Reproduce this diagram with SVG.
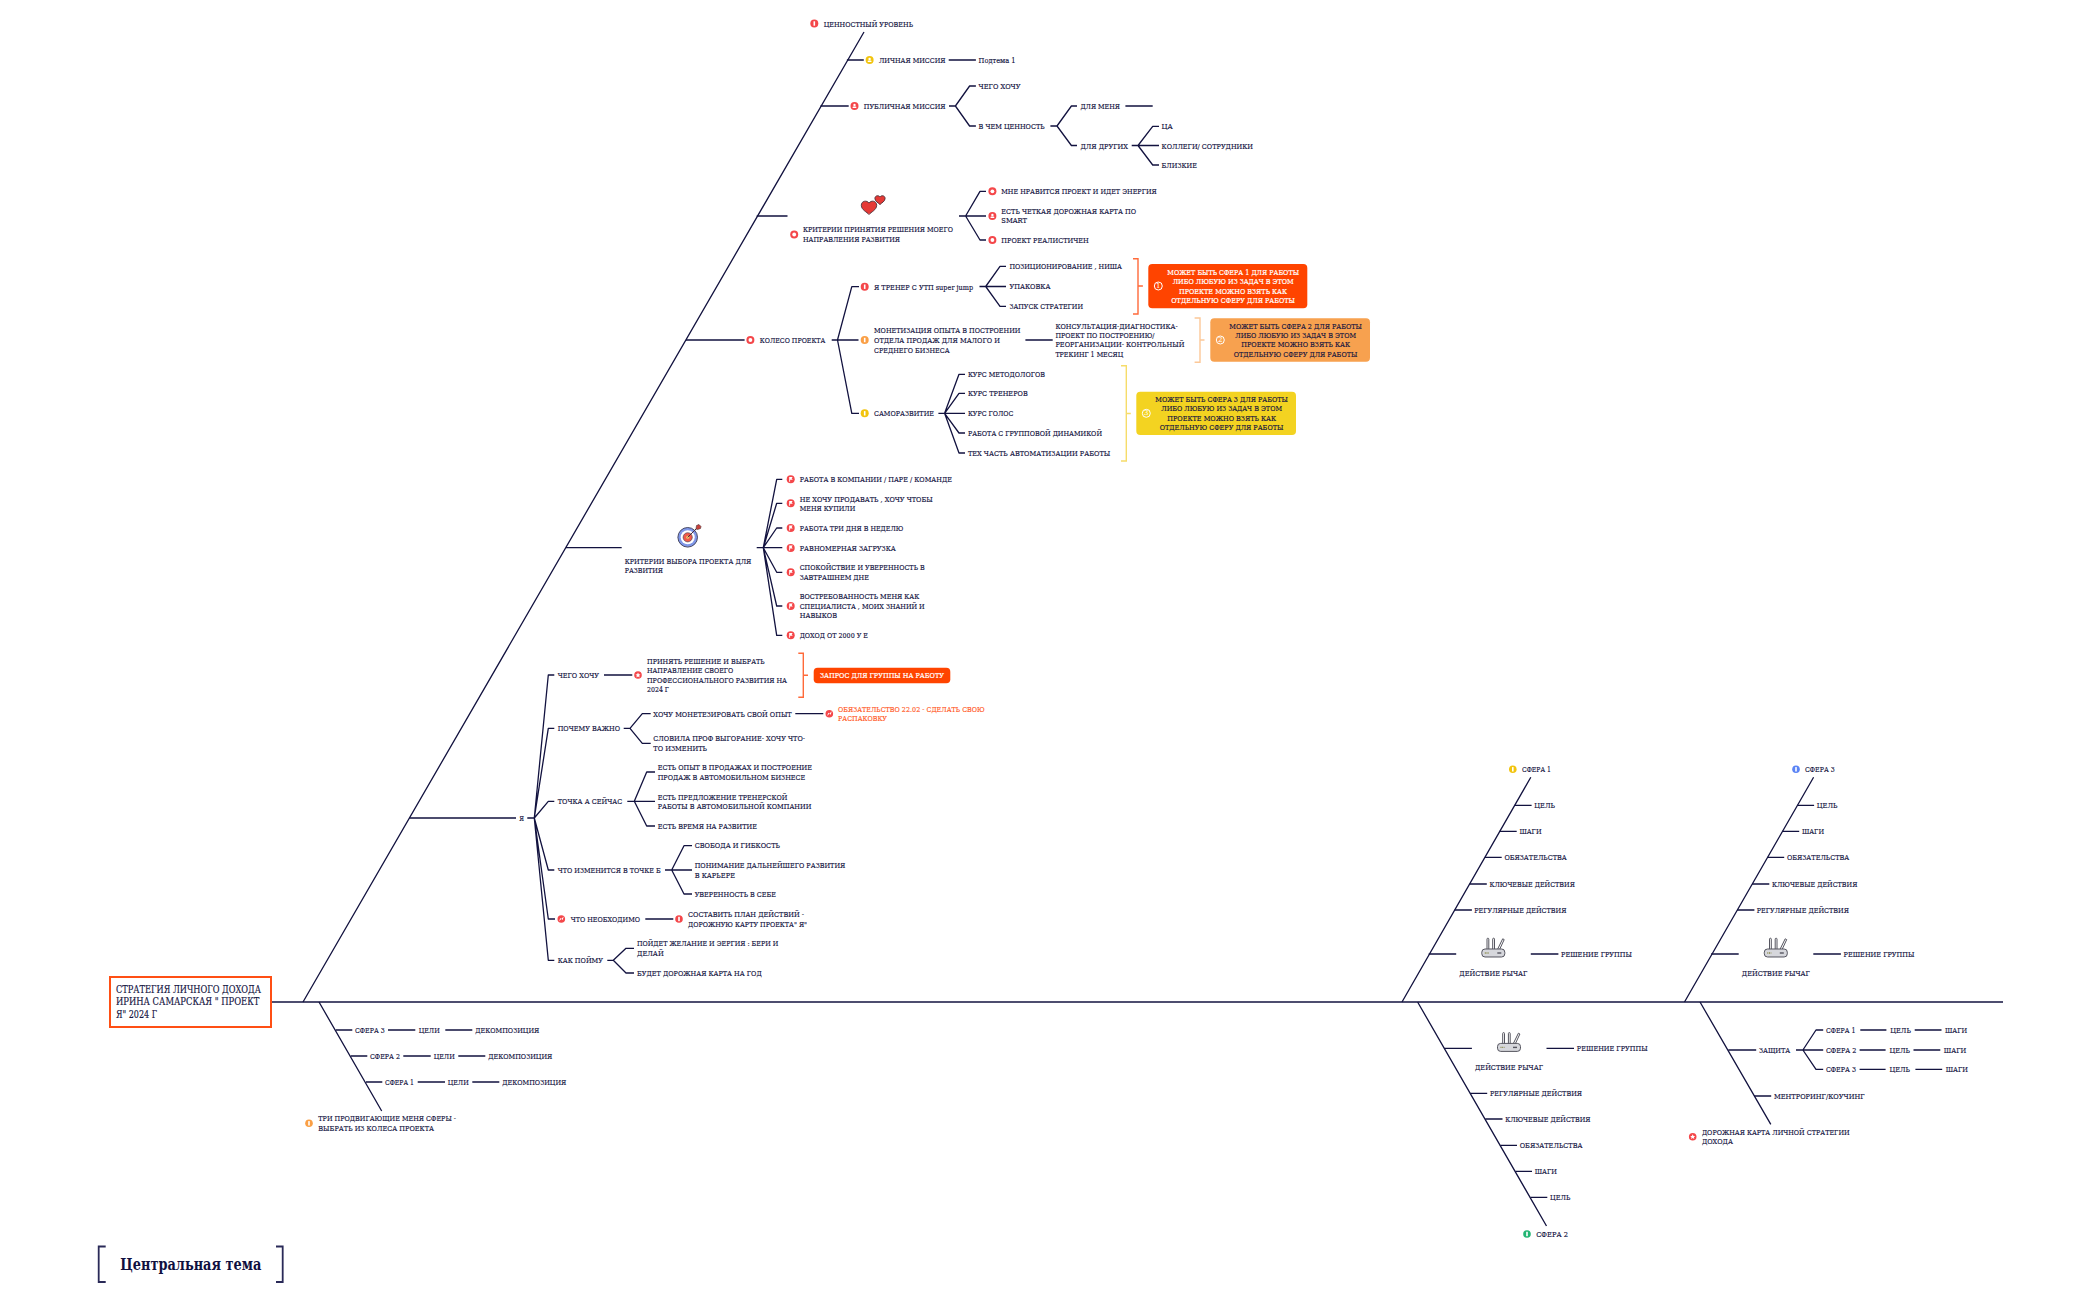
<svg xmlns="http://www.w3.org/2000/svg" width="2100" height="1300" viewBox="0 0 2100 1300">
<style>
text{font-family:"DejaVu Serif","Liberation Serif",serif;dominant-baseline:central;fill:#14143f;stroke:#14143f;stroke-width:.16;font-size:8.2px}
text.w{fill:#fff;stroke:#fff;stroke-width:.22}
text.o{fill:#ff5a28;stroke:#ff5a28}
text.c{font-size:10.5px}
text.h{font-size:17px;font-weight:bold;fill:#10103f;stroke:none}
text.n{font-size:7px;text-anchor:middle;fill:#fff;stroke:none}
.l{fill:none;stroke:#12123f;stroke-width:1.3;stroke-linejoin:round}
.b{fill:none;stroke:#12123f;stroke-width:1.5}
.ring{fill:none;stroke:#fff;stroke-width:1}
.red{fill:#f4474a}.yel{fill:#f2c40f}.ora{fill:#fa9f45}.blu{fill:#5b84f5}.gre{fill:#22b573}
.wf{fill:#fff}
</style>
<defs>
<g id="i-ring"><circle class="wf" r="1.9"/></g>
<g id="i-num"><rect class="wf" x="-.8" y="-2.2" width="1.6" height="4.4"/></g>
<g id="i-per"><circle class="wf" cy="-1" r="1.2"/><rect class="wf" x="-1.9" y=".5" width="3.8" height="1.6" rx=".7"/></g>
<g id="i-flag"><path class="wf" d="M-1.5 2.5V-2.4H2L1 -1L2 .4H-.6V2.5Z"/></g>
<g id="i-arr"><path class="wf" d="M-2.2 2.2L2.4-2.4L1.4 1L-1 -1Z"/></g>
<g id="i-star"><path class="wf" d="M0-2.5L.8-.8L2.5-.6L1.2.6L1.6 2.4L0 1.4L-1.6 2.4L-1.2.6L-2.5-.6L-.8-.8Z"/></g>
<g id="router" fill="none" stroke="#55555f" stroke-width="1">
<rect x="-11.5" y="11.4" width="23" height="8" rx="3.2" fill="#d6d7dc"/>
<path d="M-6.3 11.4V1.5a.9.9 0 0 1 1.8 0V11.4M-.6 11.4V1.5a.9.9 0 0 1 1.8 0V11.4M4.4 11.4L9.4 1.2l1.5.8L6.5 11.4"/>
<path d="M-8.5 15.4h4" stroke="#8a8a4a" stroke-dasharray="1 .7" stroke-width="1.4"/><path d="M4 15.4h4" stroke-width="1.4"/>
</g>
</defs>

<g id="connectors">
<path class="b" d="M271.5 1002H2003"/>
<path class="l" d="M303 1002L864 32M319 1002L381.7 1111M1402 1002L1530.8 777.3M1684.5 1002L1813.6 777.3M1417.6 1002L1546.5 1226M1700 1002L1770.8 1124.3"/>
<path class="l" d="M846.9 60H863.8M948.7 60H975.9M820.5 106H848.7M949 106H955.4L969.6 86H975.9M955.4 106L969.6 126H975.9M1050.4 126H1057L1071.4 106H1077M1057 126L1071.4 145.5H1077M1125.4 106H1152.7M1131.7 145.5H1138L1152.7 126.3H1159M1138 145.5H1159M1138 145.5L1152.7 165H1159"/>
<path class="l" d="M756.7 216H787.5M959 216H986M965.6 216L980 191.3H986M965.6 216L980 240H986"/>
<path class="l" d="M686 340H744.6M831.7 340H858.5M837.5 340L851.8 286.7H859M837.5 340L851.8 413.3H859M979.5 286.5H1006M985.7 286.5L1000 266.3H1006M985.7 286.5L1000 306.3H1006M1025.4 340H1052.7M938.4 413.3H965M944.6 413.3L959 374.3H965M944.6 413.3L959 393.3H965M944.6 413.3L959 433H965M944.6 413.3L959 453H965"/>
<path class="l" d="M566 547.7H621.7M756.7 547.7H782.3M763.3 547.7L776.7 479.3H782.3M763.3 547.7L776.7 503.3H782.3M763.3 547.7L776.7 528H782.3M763.3 547.7L776.7 572.3H782.3M763.3 547.7L776.7 606H782.3M763.3 547.7L776.7 635.3H782.3"/>
<path class="l" d="M409.5 818H516M527.3 818H534.3L548.3 675H554.3M534.3 818L548.3 728.3H554.3M534.3 818L548.3 801.3H554.3M534.3 818L548.3 870H554.3M534.3 818L548.3 919H555M534.3 818L548.3 960.3H554.3"/>
<path class="l" d="M604 675H632.3M623.7 728.3H630L642.3 713.7H650.7M630 728.3L642.3 743.3H650.7M795.3 713.7H823.3M627.3 801.3H655M634.3 801.3L646.7 772H655M634.3 801.3L646.7 826H655M665 870H692M671.7 870L684 845.7H692M671.7 870L684 894H692M645.3 919H673.3M607.3 960.3H613.3L626 948.3H634M613.3 960.3L626 973H634"/>
<path class="l" d="M335.7 1030H352.3M388 1030H415.3M445.3 1030H472.3M350.7 1056H367.3M403.3 1056H430.7M458.3 1056H485.3M366 1082H382.3M417.7 1082H445M472.3 1082H499.3"/>
<path class="l" d="M1514.8 805.3H1531.6M1499.5 831.3H1516.7M1484.9 857.3H1501.7M1469.6 884H1486.8M1454.7 910H1471.9M1428.7 954H1456.2M1530.8 954H1558.4"/>
<path class="l" d="M1797.3 805.3H1814.1M1782 831.3H1799.2M1767.4 857.3H1784.2M1752.1 884H1769.3M1737.2 910H1754.4M1711.2 954H1738.7M1813.3 954H1840.9"/>
<path class="l" d="M1444.3 1048.3H1471.9M1546.5 1048.3H1574M1470.4 1093.3H1487.2M1485.3 1119H1502.5M1500.6 1145.3H1517M1515.5 1171.3H1532M1530.5 1197.3H1547.3"/>
<path class="l" d="M1728.3 1050H1756.2M1796 1050H1823.2M1802.9 1050L1816 1030H1823.2M1802.9 1050L1816 1069.3H1823.2M1860.3 1030H1886.4M1914.7 1030H1941.5M1859.6 1050H1885.6M1913.5 1050H1940.3M1859.6 1069.3H1885.6M1915.4 1069.3H1942.2M1754 1096H1771.2"/>
<path d="M1133 258.7H1138V314H1133M1138 286H1142.9M798.3 653.3H803.3V697.3H798.3M803.3 675.3H808" fill="none" stroke="#ff6a3a" stroke-width="1.4"/>
<path d="M1194.6 318H1200V362.3H1194.6M1200 340H1204.5" fill="none" stroke="#fcc898" stroke-width="1.4"/>
<path d="M1121 365.7H1126.3V461H1121M1126.3 413.5H1130.8" fill="none" stroke="#f6dc6a" stroke-width="1.4"/>
</g>

<g id="central"><rect x="110" y="977" width="161" height="50" fill="#fff" stroke="#ff4f14" stroke-width="2"/>
<text class="c" x="116" y="988.7" textLength="145" lengthAdjust="spacingAndGlyphs">СТРАТЕГИЯ ЛИЧНОГО ДОХОДА</text>
<text class="c" x="116" y="1001" textLength="143.3" lengthAdjust="spacingAndGlyphs">ИРИНА САМАРСКАЯ " ПРОЕКТ</text>
<text class="c" x="116" y="1013.7" textLength="41" lengthAdjust="spacingAndGlyphs">Я" 2024 Г</text></g>

<g id="legend"><path d="M105.7 1246.5H98.7V1282H105.7M276 1246.5H282.7V1282H276" fill="none" stroke="#2a2a58" stroke-width="1.8"/>
<text class="h" x="120.3" y="1264" textLength="141" lengthAdjust="spacingAndGlyphs">Центральная тема</text></g>

<g id="n-value"><circle class="red" cx="814.3" cy="23.5" r="4"/><use href="#i-num" x="814.3" y="23.5"/><text x="823.7" y="23.5" textLength="89.3" lengthAdjust="spacingAndGlyphs">ЦЕННОСТНЫЙ УРОВЕНЬ</text></g>
<g id="n-personal"><circle class="yel" cx="869.6" cy="60" r="4"/><use href="#i-per" x="869.6" y="60"/><text x="879" y="60" textLength="66.5" lengthAdjust="spacingAndGlyphs">ЛИЧНАЯ МИССИЯ</text></g>
<g id="n-sub1"><text x="978.6" y="60" textLength="37" lengthAdjust="spacingAndGlyphs">Подтема 1</text></g>
<g id="n-public"><circle class="red" cx="854.5" cy="106" r="4"/><use href="#i-per" x="854.5" y="106"/><text x="863.8" y="106" textLength="81.7" lengthAdjust="spacingAndGlyphs">ПУБЛИЧНАЯ МИССИЯ</text></g>
<g id="n-want"><text x="978.6" y="86" textLength="41.9" lengthAdjust="spacingAndGlyphs">ЧЕГО ХОЧУ</text></g>
<g id="n-value2"><text x="978.6" y="126" textLength="66" lengthAdjust="spacingAndGlyphs">В ЧЕМ ЦЕННОСТЬ</text></g>
<g id="n-forme"><text x="1080.4" y="106" textLength="39.6" lengthAdjust="spacingAndGlyphs">ДЛЯ МЕНЯ</text></g>
<g id="n-forothers"><text x="1080.4" y="145.5" textLength="47.6" lengthAdjust="spacingAndGlyphs">ДЛЯ ДРУГИХ</text></g>
<g id="n-ca"><text x="1161.6" y="126.3" textLength="11.2" lengthAdjust="spacingAndGlyphs">ЦА</text></g>
<g id="n-coll"><text x="1161.6" y="145.5" textLength="91.4" lengthAdjust="spacingAndGlyphs">КОЛЛЕГИ/ СОТРУДНИКИ</text></g>
<g id="n-close"><text x="1161.6" y="165" textLength="35.3" lengthAdjust="spacingAndGlyphs">БЛИЗКИЕ</text></g>

<g id="n-crit1"><path d="M869 214.5c-2-2.4-7.7-4.6-7.7-9.2c0-4.6 5.6-5.4 7.7-2.2c2.1-3.2 7.7-2.4 7.7 2.2c0 4.6-5.7 6.8-7.7 9.2Z" fill="#e53935" stroke="#4a3038" stroke-width=".9"/>
<path d="M880 204.6c-1.3-1.6-5.1-3.1-5.1-6.1c0-3.1 3.7-3.6 5.1-1.5c1.4-2.1 5.1-1.6 5.1 1.5c0 3-3.8 4.5-5.1 6.1Z" fill="#e53935" stroke="#4a3038" stroke-width=".9"/>
<circle class="red" cx="794.2" cy="234.5" r="4"/><use href="#i-ring" x="794.2" y="234.5"/>
<text x="803" y="229.3" textLength="150" lengthAdjust="spacingAndGlyphs">КРИТЕРИИ ПРИНЯТИЯ РЕШЕНИЯ МОЕГО</text>
<text x="803" y="239.3" textLength="97" lengthAdjust="spacingAndGlyphs">НАПРАВЛЕНИЯ РАЗВИТИЯ</text></g>
<g id="n-c11"><circle class="red" cx="992.4" cy="191.3" r="4"/><use href="#i-ring" x="992.4" y="191.3"/><text x="1001.3" y="191.3" textLength="155.4" lengthAdjust="spacingAndGlyphs">МНЕ НРАВИТСЯ ПРОЕКТ И ИДЕТ ЭНЕРГИЯ</text></g>
<g id="n-c12"><circle class="red" cx="992.4" cy="216" r="4"/><use href="#i-per" x="992.4" y="216"/><text x="1001.3" y="211.3" textLength="134.7" lengthAdjust="spacingAndGlyphs">ЕСТЬ ЧЕТКАЯ ДОРОЖНАЯ КАРТА ПО</text><text x="1001.3" y="220.3" textLength="25.7" lengthAdjust="spacingAndGlyphs">SMART</text></g>
<g id="n-c13"><circle class="red" cx="992.4" cy="240" r="4"/><use href="#i-ring" x="992.4" y="240"/><text x="1001.3" y="240" textLength="87.5" lengthAdjust="spacingAndGlyphs">ПРОЕКТ РЕАЛИСТИЧЕН</text></g>

<g id="n-wheel"><circle class="red" cx="750.4" cy="340" r="4"/><use href="#i-ring" x="750.4" y="340"/><text x="759.8" y="340" textLength="65.6" lengthAdjust="spacingAndGlyphs">КОЛЕСО ПРОЕКТА</text></g>
<g id="n-trainer"><circle class="red" cx="864.7" cy="286.7" r="4"/><use href="#i-num" x="864.7" y="286.7"/><text x="874" y="286.7" textLength="99.2" lengthAdjust="spacingAndGlyphs">Я ТРЕНЕР С УТП super jump</text></g>
<g id="n-pos"><text x="1009.4" y="266.3" textLength="112.5" lengthAdjust="spacingAndGlyphs">ПОЗИЦИОНИРОВАНИЕ , НИША</text></g>
<g id="n-pack"><text x="1009.4" y="286.3" textLength="41" lengthAdjust="spacingAndGlyphs">УПАКОВКА</text></g>
<g id="n-launch"><text x="1009.4" y="306.3" textLength="73.6" lengthAdjust="spacingAndGlyphs">ЗАПУСК СТРАТЕГИИ</text></g>
<g id="n-box1"><rect x="1148.3" y="264" width="159" height="44.3" rx="4" fill="#ff4400"/><circle class="ring" cx="1158.3" cy="286" r="4"/><text class="n" x="1158.3" y="286">1</text>
<text class="w" x="1167.3" y="272.3" textLength="131.7" lengthAdjust="spacingAndGlyphs">МОЖЕТ БЫТЬ СФЕРА 1 ДЛЯ РАБОТЫ</text>
<text class="w" x="1172.7" y="281.3" textLength="121" lengthAdjust="spacingAndGlyphs">ЛИБО ЛЮБУЮ ИЗ ЗАДАЧ В ЭТОМ</text>
<text class="w" x="1179" y="291" textLength="108" lengthAdjust="spacingAndGlyphs">ПРОЕКТЕ МОЖНО ВЗЯТЬ КАК</text>
<text class="w" x="1171.3" y="300.3" textLength="123.7" lengthAdjust="spacingAndGlyphs">ОТДЕЛЬНУЮ СФЕРУ ДЛЯ РАБОТЫ</text></g>

<g id="n-monet"><circle class="ora" cx="864.7" cy="340" r="4"/><use href="#i-num" x="864.7" y="340"/>
<text x="874" y="330.3" textLength="146.5" lengthAdjust="spacingAndGlyphs">МОНЕТИЗАЦИЯ ОПЫТА В ПОСТРОЕНИИ</text>
<text x="874" y="340.3" textLength="126" lengthAdjust="spacingAndGlyphs">ОТДЕЛА ПРОДАЖ  ДЛЯ МАЛОГО И</text>
<text x="874" y="349.7" textLength="75.6" lengthAdjust="spacingAndGlyphs">СРЕДНЕГО БИЗНЕСА</text></g>
<g id="n-consult"><text x="1055.4" y="326" textLength="122.3" lengthAdjust="spacingAndGlyphs">КОНСУЛЬТАЦИЯ-ДИАГНОСТИКА-</text>
<text x="1055.4" y="335" textLength="99.1" lengthAdjust="spacingAndGlyphs">ПРОЕКТ ПО ПОСТРОЕНИЮ/</text>
<text x="1055.4" y="344.3" textLength="129" lengthAdjust="spacingAndGlyphs">РЕОРГАНИЗАЦИИ- КОНТРОЛЬНЫЙ</text>
<text x="1055.4" y="354" textLength="67.8" lengthAdjust="spacingAndGlyphs">ТРЕКИНГ 1 МЕСЯЦ</text></g>
<g id="n-box2"><rect x="1210.3" y="318.3" width="159.7" height="43.4" rx="4" fill="#f7a14f"/><circle class="ring" cx="1220.3" cy="340" r="4"/><text class="n" x="1220.3" y="340">2</text>
<text x="1229.3" y="326" textLength="132.7" lengthAdjust="spacingAndGlyphs">МОЖЕТ БЫТЬ СФЕРА 2 ДЛЯ РАБОТЫ</text>
<text x="1235.3" y="335" textLength="120.7" lengthAdjust="spacingAndGlyphs">ЛИБО ЛЮБУЮ ИЗ ЗАДАЧ В ЭТОМ</text>
<text x="1241.3" y="344.3" textLength="108.7" lengthAdjust="spacingAndGlyphs">ПРОЕКТЕ МОЖНО ВЗЯТЬ КАК</text>
<text x="1233.7" y="354" textLength="123.7" lengthAdjust="spacingAndGlyphs">ОТДЕЛЬНУЮ СФЕРУ ДЛЯ РАБОТЫ</text></g>

<g id="n-self"><circle class="yel" cx="864.7" cy="413.3" r="4"/><use href="#i-num" x="864.7" y="413.3"/><text x="874" y="413.3" textLength="60" lengthAdjust="spacingAndGlyphs">САМОРАЗВИТИЕ</text></g>
<g id="n-s1"><text x="967.9" y="374.3" textLength="77.1" lengthAdjust="spacingAndGlyphs">КУРС МЕТОДОЛОГОВ</text></g>
<g id="n-s2"><text x="967.9" y="393.3" textLength="59.8" lengthAdjust="spacingAndGlyphs">КУРС ТРЕНЕРОВ</text></g>
<g id="n-s3"><text x="967.9" y="413.3" textLength="45.5" lengthAdjust="spacingAndGlyphs">КУРС ГОЛОС</text></g>
<g id="n-s4"><text x="967.9" y="433" textLength="134.1" lengthAdjust="spacingAndGlyphs">РАБОТА С ГРУППОВОЙ ДИНАМИКОЙ</text></g>
<g id="n-s5"><text x="967.9" y="453" textLength="142.4" lengthAdjust="spacingAndGlyphs">ТЕХ ЧАСТЬ АВТОМАТИЗАЦИИ РАБОТЫ</text></g>
<g id="n-box3"><rect x="1136.3" y="391.7" width="159.7" height="43.3" rx="4" fill="#f3d321"/><circle class="ring" cx="1146.3" cy="413.3" r="4"/><text class="n" x="1146.3" y="413.3">3</text>
<text x="1155.3" y="399.3" textLength="132.7" lengthAdjust="spacingAndGlyphs">МОЖЕТ БЫТЬ СФЕРА 3 ДЛЯ РАБОТЫ</text>
<text x="1161.3" y="408.3" textLength="120.7" lengthAdjust="spacingAndGlyphs">ЛИБО ЛЮБУЮ ИЗ ЗАДАЧ В ЭТОМ</text>
<text x="1167.3" y="418" textLength="108.7" lengthAdjust="spacingAndGlyphs">ПРОЕКТЕ МОЖНО ВЗЯТЬ КАК</text>
<text x="1159.7" y="427.3" textLength="123.7" lengthAdjust="spacingAndGlyphs">ОТДЕЛЬНУЮ СФЕРУ ДЛЯ РАБОТЫ</text></g>

<g id="n-crit2"><circle cx="687.7" cy="537.3" r="9.8" fill="#7f97e8" stroke="#3a3a55" stroke-width=".9"/><circle cx="687.7" cy="537.3" r="7" fill="#fff"/><circle cx="687.7" cy="537.3" r="4.6" fill="#ef5a4a" stroke="#3a3a55" stroke-width=".6"/><circle cx="687.7" cy="537.3" r="1.5" fill="#f4c26a"/>
<path d="M687.7 537.3L697.5 527.5" stroke="#4a3038" stroke-width="1"/><path d="M696 529L696.5 525.5L699 524.5L701 526.5L700.5 528.5L697.5 529.5Z" fill="#c8403a" stroke="#4a3038" stroke-width=".6"/>
<text x="624.7" y="561" textLength="126.6" lengthAdjust="spacingAndGlyphs">КРИТЕРИИ ВЫБОРА ПРОЕКТА ДЛЯ</text>
<text x="624.7" y="570.3" textLength="38.3" lengthAdjust="spacingAndGlyphs">РАЗВИТИЯ</text></g>
<g id="n-k1"><circle class="red" cx="790.7" cy="479.3" r="4"/><use href="#i-flag" x="790.7" y="479.3"/><text x="799.7" y="479.3" textLength="152.3" lengthAdjust="spacingAndGlyphs">РАБОТА В КОМПАНИИ / ПАРЕ / КОМАНДЕ</text></g>
<g id="n-k2"><circle class="red" cx="790.7" cy="503.3" r="4"/><use href="#i-flag" x="790.7" y="503.3"/><text x="799.7" y="499" textLength="133" lengthAdjust="spacingAndGlyphs">НЕ ХОЧУ ПРОДАВАТЬ , ХОЧУ ЧТОБЫ</text><text x="799.7" y="508" textLength="55.6" lengthAdjust="spacingAndGlyphs">МЕНЯ КУПИЛИ</text></g>
<g id="n-k3"><circle class="red" cx="790.7" cy="528" r="4"/><use href="#i-flag" x="790.7" y="528"/><text x="799.7" y="528" textLength="103.6" lengthAdjust="spacingAndGlyphs">РАБОТА ТРИ ДНЯ В НЕДЕЛЮ</text></g>
<g id="n-k4"><circle class="red" cx="790.7" cy="548" r="4"/><use href="#i-flag" x="790.7" y="548"/><text x="799.7" y="548" textLength="96" lengthAdjust="spacingAndGlyphs">РАВНОМЕРНАЯ ЗАГРУЗКА</text></g>
<g id="n-k5"><circle class="red" cx="790.7" cy="572.3" r="4"/><use href="#i-flag" x="790.7" y="572.3"/><text x="799.7" y="567.3" textLength="125" lengthAdjust="spacingAndGlyphs">СПОКОЙСТВИЕ И УВЕРЕННОСТЬ В</text><text x="799.7" y="577" textLength="69.3" lengthAdjust="spacingAndGlyphs">ЗАВТРАШНЕМ ДНЕ</text></g>
<g id="n-k6"><circle class="red" cx="790.7" cy="606" r="4"/><use href="#i-flag" x="790.7" y="606"/><text x="799.7" y="596.3" textLength="119.6" lengthAdjust="spacingAndGlyphs">ВОСТРЕБОВАННОСТЬ МЕНЯ КАК</text><text x="799.7" y="606" textLength="125" lengthAdjust="spacingAndGlyphs">СПЕЦИАЛИСТА , МОИХ ЗНАНИЙ И</text><text x="799.7" y="615" textLength="37.3" lengthAdjust="spacingAndGlyphs">НАВЫКОВ</text></g>
<g id="n-k7"><circle class="red" cx="790.7" cy="635.3" r="4"/><use href="#i-flag" x="790.7" y="635.3"/><text x="799.7" y="635.3" textLength="68.3" lengthAdjust="spacingAndGlyphs">ДОХОД ОТ 2000 У Е</text></g>

<g id="n-ya"><text x="519.3" y="818" textLength="4.7" lengthAdjust="spacingAndGlyphs">Я</text></g>
<g id="n-y1"><text x="557.7" y="675" textLength="41.3" lengthAdjust="spacingAndGlyphs">ЧЕГО ХОЧУ</text></g>
<g id="n-y1a"><circle class="red" cx="638" cy="675" r="3.8"/><use href="#i-star" x="638" y="675"/>
<text x="647" y="661" textLength="117.7" lengthAdjust="spacingAndGlyphs">ПРИНЯТЬ РЕШЕНИЕ И ВЫБРАТЬ</text>
<text x="647" y="670.3" textLength="86.3" lengthAdjust="spacingAndGlyphs">НАПРАВЛЕНИЕ СВОЕГО</text>
<text x="647" y="680" textLength="140" lengthAdjust="spacingAndGlyphs">ПРОФЕССИОНАЛЬНОГО РАЗВИТИЯ НА</text>
<text x="647" y="689.3" textLength="22" lengthAdjust="spacingAndGlyphs">2024 Г</text></g>
<g id="n-req"><rect x="813.7" y="667.7" width="136.6" height="15.6" rx="4" fill="#ff4400"/><text class="w" x="820" y="675.3" textLength="124" lengthAdjust="spacingAndGlyphs">ЗАПРОС ДЛЯ ГРУППЫ НА РАБОТУ</text></g>
<g id="n-y2"><text x="557.7" y="728.3" textLength="62.3" lengthAdjust="spacingAndGlyphs">ПОЧЕМУ ВАЖНО</text></g>
<g id="n-y2a"><text x="653.3" y="713.7" textLength="138.4" lengthAdjust="spacingAndGlyphs">ХОЧУ МОНЕТЕЗИРОВАТЬ СВОЙ ОПЫТ</text></g>
<g id="n-y2b"><circle class="red" cx="829.3" cy="713.7" r="3.8"/><use href="#i-arr" x="829.3" y="713.7"/><text class="o" x="838" y="709" textLength="146.7" lengthAdjust="spacingAndGlyphs">ОБЯЗАТЕЛЬСТВО 22.02 - СДЕЛАТЬ СВОЮ</text><text class="o" x="838" y="718" textLength="49" lengthAdjust="spacingAndGlyphs">РАСПАКОВКУ</text></g>
<g id="n-y2c"><text x="653.3" y="738" textLength="151.7" lengthAdjust="spacingAndGlyphs">СЛОВИЛА ПРОФ ВЫГОРАНИЕ- ХОЧУ ЧТО-</text><text x="653.3" y="748" textLength="53.7" lengthAdjust="spacingAndGlyphs">ТО ИЗМЕНИТЬ</text></g>
<g id="n-y3"><text x="557.7" y="801.3" textLength="64.6" lengthAdjust="spacingAndGlyphs">ТОЧКА А СЕЙЧАС</text></g>
<g id="n-y3a"><text x="657.7" y="767" textLength="154.3" lengthAdjust="spacingAndGlyphs">ЕСТЬ ОПЫТ В ПРОДАЖАХ И ПОСТРОЕНИЕ</text><text x="657.7" y="777" textLength="147.6" lengthAdjust="spacingAndGlyphs">ПРОДАЖ В АВТОМОБИЛЬНОМ БИЗНЕСЕ</text></g>
<g id="n-y3b"><text x="657.7" y="797" textLength="129.6" lengthAdjust="spacingAndGlyphs">ЕСТЬ ПРЕДЛОЖЕНИЕ ТРЕНЕРСКОЙ</text><text x="657.7" y="806" textLength="153.6" lengthAdjust="spacingAndGlyphs">РАБОТЫ В АВТОМОБИЛЬНОЙ КОМПАНИИ</text></g>
<g id="n-y3c"><text x="657.7" y="826" textLength="99.3" lengthAdjust="spacingAndGlyphs">ЕСТЬ ВРЕМЯ НА РАЗВИТИЕ</text></g>
<g id="n-y4"><text x="557.7" y="870" textLength="103" lengthAdjust="spacingAndGlyphs">ЧТО ИЗМЕНИТСЯ В ТОЧКЕ Б</text></g>
<g id="n-y4a"><text x="694.7" y="845.3" textLength="85.3" lengthAdjust="spacingAndGlyphs">СВОБОДА  И ГИБКОСТЬ</text></g>
<g id="n-y4b"><text x="694.7" y="865" textLength="150.6" lengthAdjust="spacingAndGlyphs">ПОНИМАНИЕ ДАЛЬНЕЙШЕГО РАЗВИТИЯ</text><text x="694.7" y="875" textLength="40.3" lengthAdjust="spacingAndGlyphs">В КАРЬЕРЕ</text></g>
<g id="n-y4c"><text x="694.7" y="894" textLength="81.3" lengthAdjust="spacingAndGlyphs">УВЕРЕННОСТЬ В СЕБЕ</text></g>
<g id="n-y5"><circle class="red" cx="561.3" cy="919" r="3.8"/><use href="#i-arr" x="561.3" y="919"/><text x="570.7" y="919" textLength="69.3" lengthAdjust="spacingAndGlyphs">ЧТО НЕОБХОДИМО</text></g>
<g id="n-y5a"><circle class="red" cx="679" cy="919" r="3.8"/><use href="#i-num" x="679" y="919"/><text x="688" y="914" textLength="116" lengthAdjust="spacingAndGlyphs">СОСТАВИТЬ ПЛАН ДЕЙСТВИЙ  -</text><text x="688" y="924" textLength="119" lengthAdjust="spacingAndGlyphs">ДОРОЖНУЮ КАРТУ ПРОЕКТА" Я"</text></g>
<g id="n-y6"><text x="557.7" y="960.3" textLength="45.3" lengthAdjust="spacingAndGlyphs">КАК ПОЙМУ</text></g>
<g id="n-y6a"><text x="637" y="943" textLength="141.3" lengthAdjust="spacingAndGlyphs">ПОЙДЕТ ЖЕЛАНИЕ И ЭЕРГИЯ : БЕРИ И</text><text x="637" y="953" textLength="26.7" lengthAdjust="spacingAndGlyphs">ДЕЛАЙ</text></g>
<g id="n-y6b"><text x="637" y="973" textLength="124.7" lengthAdjust="spacingAndGlyphs">БУДЕТ ДОРОЖНАЯ КАРТА НА ГОД</text></g>

<g id="n-three"><circle class="ora" cx="309" cy="1123.3" r="3.8"/><use href="#i-num" x="309" y="1123.3"/><text x="318.3" y="1118.3" textLength="137.7" lengthAdjust="spacingAndGlyphs">ТРИ ПРОДВИГАЮЩИЕ МЕНЯ СФЕРЫ -</text><text x="318.3" y="1128.3" textLength="115.7" lengthAdjust="spacingAndGlyphs">ВЫБРАТЬ ИЗ КОЛЕСА  ПРОЕКТА</text></g>
<g id="n-t3"><text x="355" y="1030" textLength="29.7" lengthAdjust="spacingAndGlyphs">СФЕРА 3</text><text x="418.7" y="1030" textLength="21" lengthAdjust="spacingAndGlyphs">ЦЕЛИ</text><text x="475.3" y="1030" textLength="64" lengthAdjust="spacingAndGlyphs">ДЕКОМПОЗИЦИЯ</text></g>
<g id="n-t2"><text x="370" y="1056" textLength="30" lengthAdjust="spacingAndGlyphs">СФЕРА 2</text><text x="433.7" y="1056" textLength="21" lengthAdjust="spacingAndGlyphs">ЦЕЛИ</text><text x="488.3" y="1056" textLength="64" lengthAdjust="spacingAndGlyphs">ДЕКОМПОЗИЦИЯ</text></g>
<g id="n-t1"><text x="385" y="1082" textLength="29" lengthAdjust="spacingAndGlyphs">СФЕРА 1</text><text x="447.7" y="1082" textLength="21" lengthAdjust="spacingAndGlyphs">ЦЕЛИ</text><text x="502.3" y="1082" textLength="64" lengthAdjust="spacingAndGlyphs">ДЕКОМПОЗИЦИЯ</text></g>

<g id="n-sphere1"><circle class="yel" cx="1512.8" cy="769.3" r="3.8"/><use href="#i-num" x="1512.8" y="769.3"/><text x="1522" y="769.3" textLength="29" lengthAdjust="spacingAndGlyphs">СФЕРА 1</text>
<text x="1534.3" y="805.3" textLength="20.7" lengthAdjust="spacingAndGlyphs">ЦЕЛЬ</text>
<text x="1519.4" y="831.3" textLength="22.1" lengthAdjust="spacingAndGlyphs">ШАГИ</text>
<text x="1504.4" y="857.3" textLength="62.4" lengthAdjust="spacingAndGlyphs">ОБЯЗАТЕЛЬСТВА</text>
<text x="1489.5" y="884" textLength="85.3" lengthAdjust="spacingAndGlyphs">КЛЮЧЕВЫЕ ДЕЙСТВИЯ</text>
<text x="1474.2" y="910" textLength="92.2" lengthAdjust="spacingAndGlyphs">РЕГУЛЯРНЫЕ ДЕЙСТВИЯ</text>
<use href="#router" x="1493.3" y="937.6"/><text x="1459.3" y="973.3" textLength="68.1" lengthAdjust="spacingAndGlyphs">ДЕЙСТВИЕ РЫЧАГ</text>
<text x="1561" y="954" textLength="70.9" lengthAdjust="spacingAndGlyphs">РЕШЕНИЕ ГРУППЫ</text></g>
<g id="n-sphere3"><circle class="blu" cx="1796" cy="769.3" r="3.8"/><use href="#i-num" x="1796" y="769.3"/><text x="1805" y="769.3" textLength="29.7" lengthAdjust="spacingAndGlyphs">СФЕРА 3</text>
<text x="1816.8" y="805.3" textLength="20.7" lengthAdjust="spacingAndGlyphs">ЦЕЛЬ</text>
<text x="1801.9" y="831.3" textLength="22.1" lengthAdjust="spacingAndGlyphs">ШАГИ</text>
<text x="1786.9" y="857.3" textLength="62.4" lengthAdjust="spacingAndGlyphs">ОБЯЗАТЕЛЬСТВА</text>
<text x="1772" y="884" textLength="85.3" lengthAdjust="spacingAndGlyphs">КЛЮЧЕВЫЕ ДЕЙСТВИЯ</text>
<text x="1756.7" y="910" textLength="92.2" lengthAdjust="spacingAndGlyphs">РЕГУЛЯРНЫЕ ДЕЙСТВИЯ</text>
<use href="#router" x="1775.8" y="937.6"/><text x="1741.8" y="973.3" textLength="68.1" lengthAdjust="spacingAndGlyphs">ДЕЙСТВИЕ РЫЧАГ</text>
<text x="1843.5" y="954" textLength="70.9" lengthAdjust="spacingAndGlyphs">РЕШЕНИЕ ГРУППЫ</text></g>
<g id="n-sphere2"><circle class="gre" cx="1527" cy="1234" r="3.8"/><use href="#i-num" x="1527" y="1234"/><text x="1536.2" y="1234" textLength="31.8" lengthAdjust="spacingAndGlyphs">СФЕРА  2</text>
<text x="1550" y="1197.3" textLength="20.3" lengthAdjust="spacingAndGlyphs">ЦЕЛЬ</text>
<text x="1534.7" y="1171.3" textLength="22.2" lengthAdjust="spacingAndGlyphs">ШАГИ</text>
<text x="1519.7" y="1145.3" textLength="62.8" lengthAdjust="spacingAndGlyphs">ОБЯЗАТЕЛЬСТВА</text>
<text x="1505.2" y="1119" textLength="85.3" lengthAdjust="spacingAndGlyphs">КЛЮЧЕВЫЕ ДЕЙСТВИЯ</text>
<text x="1489.9" y="1093.3" textLength="92.1" lengthAdjust="spacingAndGlyphs">РЕГУЛЯРНЫЕ ДЕЙСТВИЯ</text>
<use href="#router" x="1509" y="1032"/><text x="1475" y="1067.3" textLength="68" lengthAdjust="spacingAndGlyphs">ДЕЙСТВИЕ РЫЧАГ</text>
<text x="1576.8" y="1048.3" textLength="70.8" lengthAdjust="spacingAndGlyphs">РЕШЕНИЕ ГРУППЫ</text></g>
<g id="n-roadmap"><circle class="red" cx="1692.7" cy="1136.7" r="3.8"/><use href="#i-star" x="1692.7" y="1136.7"/><text x="1701.9" y="1132.3" textLength="147.7" lengthAdjust="spacingAndGlyphs">ДОРОЖНАЯ КАРТА ЛИЧНОЙ СТРАТЕГИИ</text><text x="1701.9" y="1141.3" textLength="31" lengthAdjust="spacingAndGlyphs">ДОХОДА</text></g>
<g id="n-defense"><text x="1758.9" y="1050" textLength="31.4" lengthAdjust="spacingAndGlyphs">ЗАЩИТА</text>
<text x="1825.9" y="1030" textLength="29.5" lengthAdjust="spacingAndGlyphs">СФЕРА 1</text><text x="1890.2" y="1030" textLength="20.7" lengthAdjust="spacingAndGlyphs">ЦЕЛЬ</text><text x="1944.9" y="1030" textLength="22.2" lengthAdjust="spacingAndGlyphs">ШАГИ</text>
<text x="1825.9" y="1050" textLength="30.6" lengthAdjust="spacingAndGlyphs">СФЕРА 2</text><text x="1889.4" y="1050" textLength="20.6" lengthAdjust="spacingAndGlyphs">ЦЕЛЬ</text><text x="1943.8" y="1050" textLength="22.5" lengthAdjust="spacingAndGlyphs">ШАГИ</text>
<text x="1825.9" y="1069.3" textLength="30.2" lengthAdjust="spacingAndGlyphs">СФЕРА 3</text><text x="1889.4" y="1069.3" textLength="20.6" lengthAdjust="spacingAndGlyphs">ЦЕЛЬ</text><text x="1945.7" y="1069.3" textLength="22.2" lengthAdjust="spacingAndGlyphs">ШАГИ</text></g>
<g id="n-mentor"><text x="1773.9" y="1096" textLength="90.7" lengthAdjust="spacingAndGlyphs">МЕНТРОРИНГ/КОУЧИНГ</text></g>
</svg>
